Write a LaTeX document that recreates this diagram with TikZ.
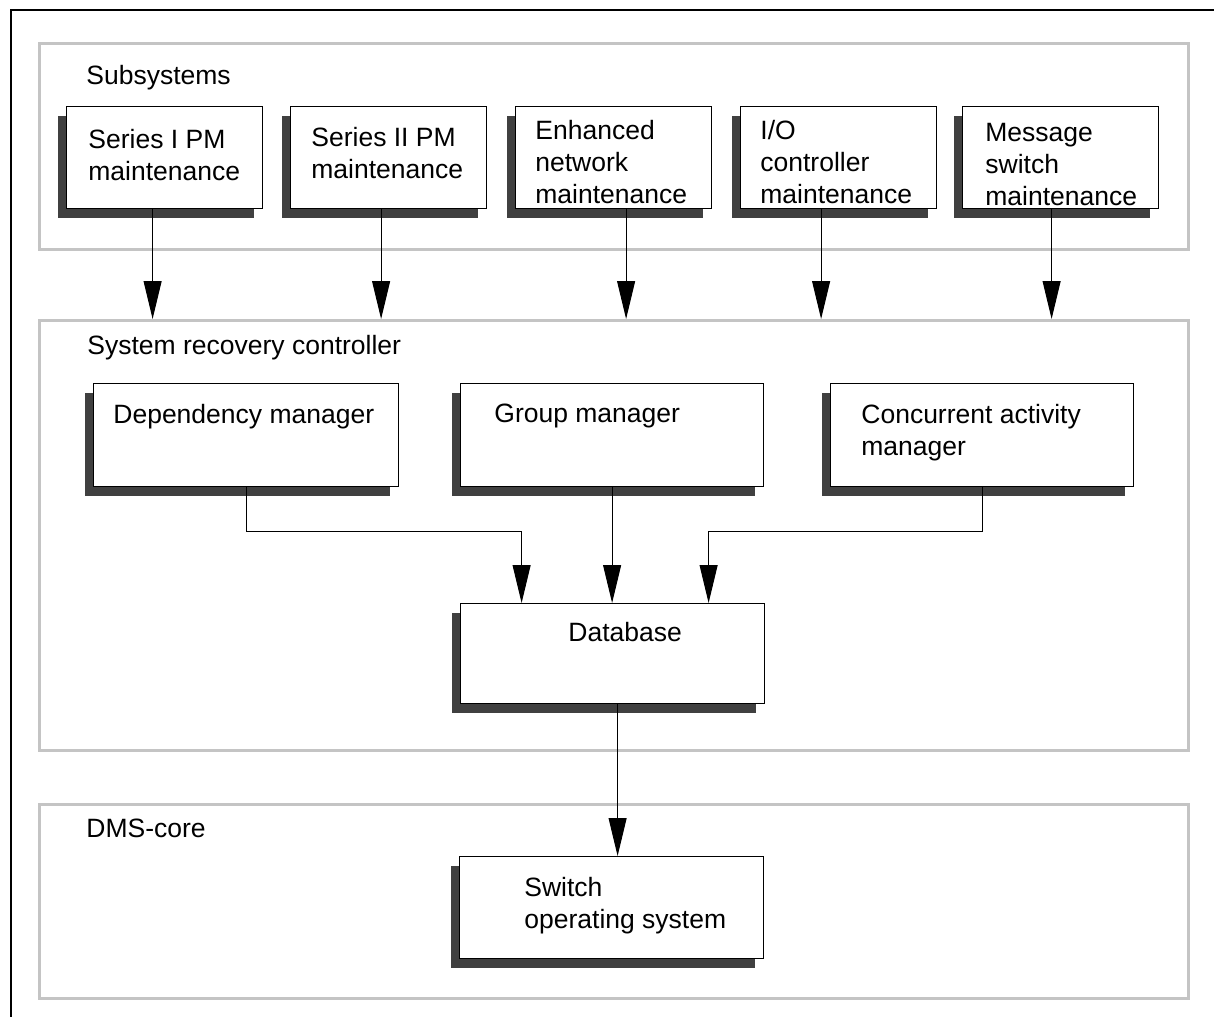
\documentclass[tikz,border=0pt]{standalone}
\usepackage{fontspec}
\setmainfont{Liberation Sans}
\usepackage{tikz}
\usetikzlibrary{positioning, arrows.meta, shadows}

\definecolor{FrameGray}{RGB}{196,196,196}
\definecolor{ShadowGray}{RGB}{64,64,64}

\tikzset{
  group/.style={draw=FrameGray, line width=1.5pt, inner sep=0pt, anchor=north west},
  unit/.style={draw=black, fill=white, line width=0.6pt, inner sep=0pt, anchor=north west,
    drop shadow={shadow xshift=-4.5pt, shadow yshift=-4.5pt, opacity=1, fill=ShadowGray}},
  unittext/.style={inner sep=0pt, align=left},
  flow/.style={line width=0.5pt, -{Triangle[length=19pt, width=9pt]}},
}

\begin{document}
\begin{tikzpicture}[x=0.5pt, y=-0.5pt, font=\fontsize{13.25pt}{16pt}\selectfont]
  \useasboundingbox (0,0) rectangle (1214,1017);
  % outer frame, only top and left edges
  \draw[line width=0.8pt] (1214,10) -- (11,10) -- (11,1017);

  % grouping frames
  \node[group, minimum width=574.5pt, minimum height=103pt] (sub) at (38,42) {};
  \node[group, minimum width=574.5pt, minimum height=215pt] (src) at (38,319) {};
  \node[group, minimum width=574.5pt, minimum height=97pt] (dms) at (38,803) {};
  \node[unittext, anchor=north west] (sub-lbl) at (86,65) {Subsystems};
  \node[unittext, anchor=north west] (src-lbl) at (87,335) {System recovery controller};
  \node[unittext, anchor=north west] (dms-lbl) at (86,819) {DMS-core};

  % subsystem maintenance units
  \node[unit, minimum width=98pt, minimum height=51pt] (s1) at (66,106) {};
  \node[unit, minimum width=98pt, minimum height=51pt] (s2) at (290,106) {};
  \node[unit, minimum width=98pt, minimum height=51pt] (s3) at (515,106) {};
  \node[unit, minimum width=98pt, minimum height=51pt] (s4) at (740,106) {};
  \node[unit, minimum width=98pt, minimum height=51pt] (s5) at (962,106) {};
  \node[unittext, below right=11.5pt and 11pt of s1.north west] (s1-txt) {Series I PM\\maintenance};
  \node[unittext, below right=10.5pt and 10.5pt of s2.north west] (s2-txt) {Series II PM\\maintenance};
  \node[unittext, below right=7pt and 10pt of s3.north west] (s3-txt) {Enhanced\\network\\maintenance};
  \node[unittext, below right=7pt and 10pt of s4.north west] (s4-txt) {I/O\\controller\\maintenance};
  \node[unittext, below right=8.5pt and 11.5pt of s5.north west] (s5-txt) {Message\\switch\\maintenance};

  % recovery controller units
  \node[unit, minimum width=152.5pt, minimum height=51.5pt] (dep) at (93,383) {};
  \node[unit, minimum width=151.5pt, minimum height=51.5pt] (gm) at (460,383) {};
  \node[unit, minimum width=151.5pt, minimum height=51.5pt] (cam) at (830,383) {};
  \node[unit, minimum width=152pt, minimum height=50pt] (db) at (460,603) {};
  \node[unittext, below right=10.5pt and 10pt of dep.north west] (dep-txt) {Dependency manager};
  \node[unittext, below right=10.5pt and 17pt of gm.north west] (gm-txt) {Group manager};
  \node[unittext, below right=10.5pt and 15.5pt of cam.north west] (cam-txt) {Concurrent activity\\manager};
  \node[unittext, below right=9.5pt and 54pt of db.north west] (db-txt) {Database};

  % core
  \node[unit, minimum width=152pt, minimum height=51pt] (sw) at (459,856) {};
  \node[unittext, below right=10.5pt and 32.5pt of sw.north west] (sw-txt) {Switch\\operating system};

  % subsystems feed the recovery controller
  \foreach \b/\dx in {s1/-6pt, s2/-3.75pt, s3/6.25pt, s4/-8.75pt, s5/-4.5pt}
    \draw[flow] ([xshift=\dx]\b.south) -- ([xshift=\dx]\b.south |- src.north);

  % managers update the database
  \draw[flow] (dep.south) -- ++(0,44) -| ([xshift=-45.5pt]db.north);
  \draw[flow] (gm.south) -- (gm.south |- db.north);
  \draw[flow] (cam.south) -- ++(0,44) -| ([xshift=48pt]db.north);
  \draw[flow] ([xshift=2.5pt]db.south) -- ([xshift=2.5pt]db.south |- sw.north);
\end{tikzpicture}
\end{document}
